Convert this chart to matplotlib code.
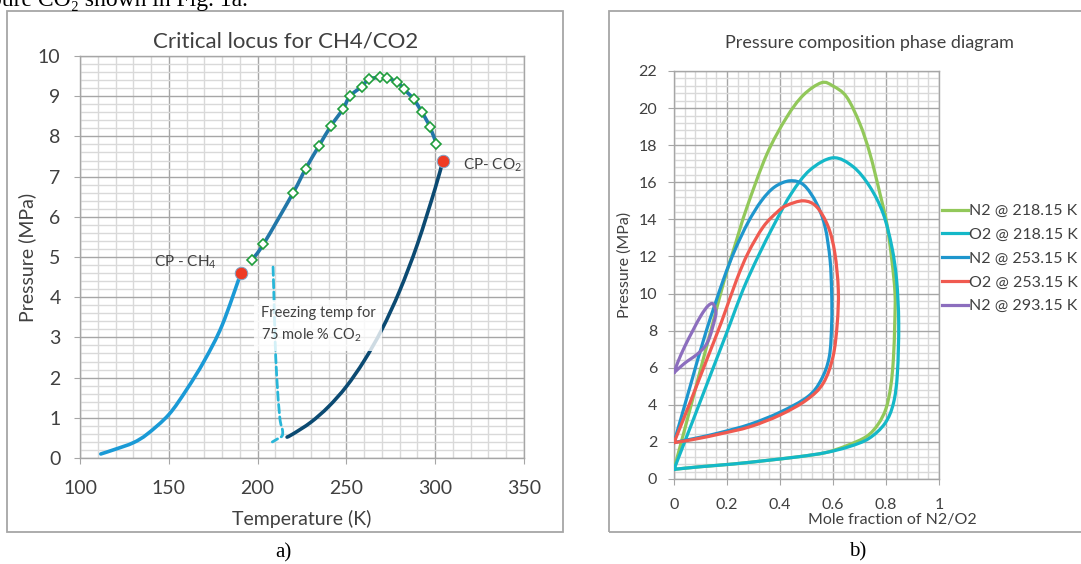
import matplotlib
matplotlib.use("Agg")
import matplotlib.pyplot as plt
import numpy as np
from matplotlib.patches import Rectangle, PathPatch
from matplotlib.path import Path
from matplotlib.lines import Line2D
from matplotlib.ticker import MultipleLocator

plt.rcParams['font.family'] = ['Lato', 'DejaVu Sans']
plt.rcParams['mathtext.fontset'] = 'custom'
plt.rcParams['mathtext.rm'] = 'Lato'
plt.rcParams['mathtext.it'] = 'Lato:italic'

# ---- a) critical locus CH4/CO2 ----
ch4_T = [111.7, 120, 130, 138, 150, 160, 170, 180, 190.6]
ch4_P = [0.10, 0.22, 0.38, 0.60, 1.08, 1.70, 2.42, 3.30, 4.60]

co2_T = [216.6, 220, 230, 240, 250, 260, 270, 280, 290, 300, 304.2]
co2_P = [0.52, 0.60, 0.89, 1.28, 1.78, 2.42, 3.20, 4.16, 5.32, 6.71, 7.38]

locus_T = [196.6, 203.3, 219.8, 227.0, 234.5, 241.3, 247.9, 252.0, 258.6, 262.6,
           269.1, 272.7, 278.7, 282.5, 287.8, 292.6, 297.0, 300.7]
locus_P = [4.92, 5.32, 6.58, 7.19, 7.76, 8.26, 8.67, 9.00, 9.24, 9.42,
           9.47, 9.45, 9.35, 9.17, 8.93, 8.60, 8.24, 7.81]

freeze_T = [208.7, 209.2, 209.8, 210.8, 212.5, 214.0, 213.8, 211.0, 208.3]
freeze_P = [4.75, 4.00, 3.00, 2.00, 1.00, 0.70, 0.55, 0.47, 0.40]

cp_T = [190.6, 304.2]
cp_P = [4.60, 7.38]

# ---- b) pressure composition phase diagram ----
n2_218_x = [0, 0.05, 0.10, 0.15, 0.19, 0.23, 0.274, 0.35, 0.425, 0.488, 0.557,
            0.60, 0.651, 0.701, 0.739, 0.777, 0.803, 0.822, 0.834, 0.833, 0.828, 0.818,
            0.800, 0.770, 0.727, 0.652, 0.571, 0.47, 0.343, 0.224, 0.098, 0]
n2_218_y = [0.52, 3.2, 5.9, 8.6, 10.73, 12.6, 14.6, 17.5, 19.5, 20.7, 21.37,
            21.19, 20.61, 19.17, 17.56, 15.4, 13.78, 11.81, 10.0, 8.4, 6.5, 5.0,
            3.8, 2.95, 2.3, 1.8, 1.42, 1.2, 0.99, 0.81, 0.66, 0.52]

o2_218_x = [0, 0.07, 0.14, 0.21, 0.26, 0.317, 0.38, 0.443, 0.513, 0.60, 0.676, 0.739,
            0.789, 0.822, 0.840, 0.848, 0.843, 0.828, 0.796, 0.736, 0.66, 0.571, 0.47,
            0.343, 0.224, 0.098, 0]
o2_218_y = [0.52, 3.1, 5.7, 8.3, 10.19, 11.99, 13.78, 15.4, 16.66, 17.32, 16.84, 15.76,
            14.32, 12.52, 10.73, 8.4, 5.7, 4.08, 3.0, 2.19, 1.74, 1.42, 1.2,
            0.99, 0.81, 0.66, 0.52]

n2_253_x = [0, 0.06, 0.12, 0.186, 0.23, 0.28, 0.33, 0.38, 0.438, 0.49, 0.538, 0.57,
            0.589, 0.595, 0.595, 0.586, 0.555, 0.505, 0.40, 0.287, 0.174, 0.098, 0.04, 0]
n2_253_y = [1.96, 4.95, 7.9, 10.73, 12.35, 13.85, 15.0, 15.75, 16.08, 15.85, 14.86, 13.6,
            11.81, 10.0, 8.39, 6.59, 5.34, 4.44, 3.6, 2.95, 2.5, 2.25, 2.08, 1.96]

o2_253_x = [0, 0.06, 0.12, 0.18, 0.236, 0.28, 0.337, 0.39, 0.425, 0.488, 0.538, 0.582,
            0.607, 0.620, 0.616, 0.600, 0.563, 0.50, 0.40, 0.287, 0.174, 0.098, 0.04, 0]
o2_253_y = [1.96, 4.1, 6.3, 8.5, 10.73, 12.2, 13.6, 14.4, 14.75, 15.0, 14.68, 13.6,
            12.17, 10.2, 8.39, 6.59, 5.16, 4.26, 3.45, 2.82, 2.43, 2.2, 2.05, 1.96]

n2_293_x = [0, 0.015, 0.04, 0.072, 0.103, 0.128, 0.147, 0.158, 0.153, 0.135, 0.116,
            0.084, 0.04, 0]
n2_293_y = [5.73, 6.32, 7.13, 8.03, 8.84, 9.33, 9.45, 9.0, 8.57, 7.67, 7.13,
            6.69, 6.24, 5.73]

labels_b = ["N2 @ 218.15 K", "O2 @ 218.15 K", "N2 @ 253.15 K", "O2 @ 253.15 K", "N2 @ 293.15 K"]
colors_b = ["#92c85a", "#14b8c8", "#1e96cd", "#f05a50", "#8c6ebe"]
xs_b = [n2_218_x, o2_218_x, n2_253_x, o2_253_x, n2_293_x]
ys_b = [n2_218_y, o2_218_y, n2_253_y, o2_253_y, n2_293_y]

W, H = 1081, 564
txt = "#404040"
major_c = "#a6a6a6"
minor_c = "#d9d9d9"


def smooth_line(ax, xs, ys, **kw):
    # smoothed line like the spreadsheet's: cubic bezier segments through the points
    pts = np.column_stack([xs, ys]).astype(float)
    n = len(pts)
    verts = [pts[0]]
    codes = [Path.MOVETO]
    for i in range(n - 1):
        p0 = pts[i - 1] if i > 0 else pts[i]
        p1, p2 = pts[i], pts[i + 1]
        p3 = pts[i + 2] if i + 2 < n else pts[i + 1]
        verts += [p1 + (p2 - p0) / 6, p2 - (p3 - p1) / 6, p2]
        codes += [Path.CURVE4] * 3
    patch = PathPatch(Path(verts, codes), fill=False, capstyle="round", joinstyle="round", **kw)
    ax.add_patch(patch)
    return patch


fig = plt.figure(figsize=(W / 100, H / 100), dpi=100)

# frames around the two charts
fig.patches.append(Rectangle((7 / W, 1 - 532 / H), 556 / W, 521 / H, transform=fig.transFigure,
                             fill=False, ec="#a6a6a6", lw=1.3))
fig.patches.append(Rectangle((609 / W, 1 - 532 / H), 490 / W, 521 / H, transform=fig.transFigure,
                             fill=False, ec="#a6a6a6", lw=1.3))


def style_axes(ax, size, pad_x, pad_y):
    ax.grid(which="major", color=major_c, lw=1.0, zorder=0)
    ax.grid(which="minor", color=minor_c, lw=1.0, zorder=0)
    ax.set_axisbelow(True)
    for s in ax.spines.values():
        s.set_color(major_c)
        s.set_linewidth(1.0)
    ax.tick_params(which="major", direction="out", length=4, color=major_c,
                   labelsize=size, labelcolor=txt)
    ax.tick_params(axis="x", which="major", pad=pad_x)
    ax.tick_params(axis="y", which="major", pad=pad_y)
    ax.tick_params(which="minor", length=0)


# ---------------- chart a ----------------
ax1 = fig.add_axes([80 / W, 1 - 458 / H, 444 / W, 402 / H])
ax1.set_xlim(100, 350)
ax1.set_ylim(0, 10)
ax1.xaxis.set_major_locator(MultipleLocator(50))
ax1.xaxis.set_minor_locator(MultipleLocator(10))
ax1.yaxis.set_major_locator(MultipleLocator(1))
ax1.yaxis.set_minor_locator(MultipleLocator(0.2))
style_axes(ax1, 14, 12, 10)

smooth_line(ax1, ch4_T, ch4_P, ec="#1a9ad6", lw=2.6, zorder=3)
smooth_line(ax1, co2_T, co2_P, ec="#0b4a72", lw=2.6, zorder=3)
smooth_line(ax1, freeze_T, freeze_P, ec="#29b6d8", lw=2.0, ls=(0, (3, 1.5)), zorder=3)
smooth_line(ax1, locus_T, locus_P, ec="#2277a8", lw=2.6, zorder=4)
ax1.plot(locus_T, locus_P, ls="none", marker="D", ms=4.8, mfc="white",
         mec="#1f9e3c", mew=1.2, zorder=4)
ax1.plot(cp_T, cp_P, ls="none", marker="o", ms=9, mfc="#ef3b24", mec="#7fa6c9", mew=0.7, zorder=5)

ax1.text(141.4, 4.87, r"CP - CH$_4$", fontsize=11, color=txt, va="center", ha="left", zorder=6)
ax1.text(315.7, 7.27, r"CP- CO$_2$", fontsize=11, color=txt, va="center", ha="left", zorder=6)
ax1.text(201.7, 3.31, "Freezing temp for\n" + r"75 mole % CO$_2$", fontsize=10.5, color=txt,
         va="center", ha="left", linespacing=1.55, zorder=6,
         bbox=dict(facecolor="white", edgecolor="none", alpha=0.8, pad=5))

fig.text(286 / W, 1 - 41 / H, "Critical locus for CH4/CO2", fontsize=16, color=txt,
         ha="center", va="center")
fig.text(27 / W, 1 - 257 / H, "Pressure (MPa)", fontsize=14, color=txt, rotation=90,
         ha="center", va="center")
fig.text(302 / W, 1 - 519 / H, "Temperature (K)", fontsize=14, color=txt,
         ha="center", va="center")

# ---------------- chart b ----------------
ax2 = fig.add_axes([674 / W, 1 - 479 / H, 265 / W, 408 / H])
ax2.set_xlim(0, 1)
ax2.set_ylim(0, 22)
ax2.xaxis.set_major_locator(MultipleLocator(0.2))
ax2.xaxis.set_minor_locator(MultipleLocator(0.04))
ax2.yaxis.set_major_locator(MultipleLocator(2))
ax2.yaxis.set_minor_locator(MultipleLocator(0.4))
ax2.xaxis.set_major_formatter(lambda v, p: "%g" % round(v, 2))
style_axes(ax2, 11.5, 10, 8)

handles = []
for label, xs, ys, col in zip(labels_b, xs_b, ys_b, colors_b):
    smooth_line(ax2, xs, ys, ec=col, lw=2.3, zorder=3)
    handles.append(Line2D([], [], color=col, lw=2.3, label=label))

fig.legend(handles=handles, loc="upper left", bbox_to_anchor=(942 / W, 1 - 204 / H),
           frameon=False, fontsize=11.5, handlelength=1.6, handletextpad=0.1,
           labelspacing=0.6, borderpad=0, borderaxespad=0, labelcolor=txt)

fig.text(869 / W, 1 - 43 / H, "Pressure composition phase diagram", fontsize=13, color=txt,
         ha="center", va="center")
fig.text(625 / W, 1 - 265 / H, "Pressure (MPa)", fontsize=11.5, color=txt, rotation=90,
         ha="center", va="center")
fig.text(892 / W, 1 - 520 / H, "Mole fraction of N2/O2", fontsize=11.5, color=txt,
         ha="center", va="center")

# captions and the cut-off line of body text above
serif = ["Liberation Serif", "DejaVu Serif"]
fig.text(283 / W, 1 - 553 / H, "a)", fontsize=15, family=serif, ha="center", va="center")
fig.text(858 / W, 1 - 552 / H, "b)", fontsize=15, family=serif, ha="center", va="center")
fig.text(-10 / W, 1 - 6 / H, "pure CO\u2082 shown in Fig. 1a.", fontsize=17, family=serif,
         ha="left", va="baseline")

fig.savefig("out.png", dpi=100)
